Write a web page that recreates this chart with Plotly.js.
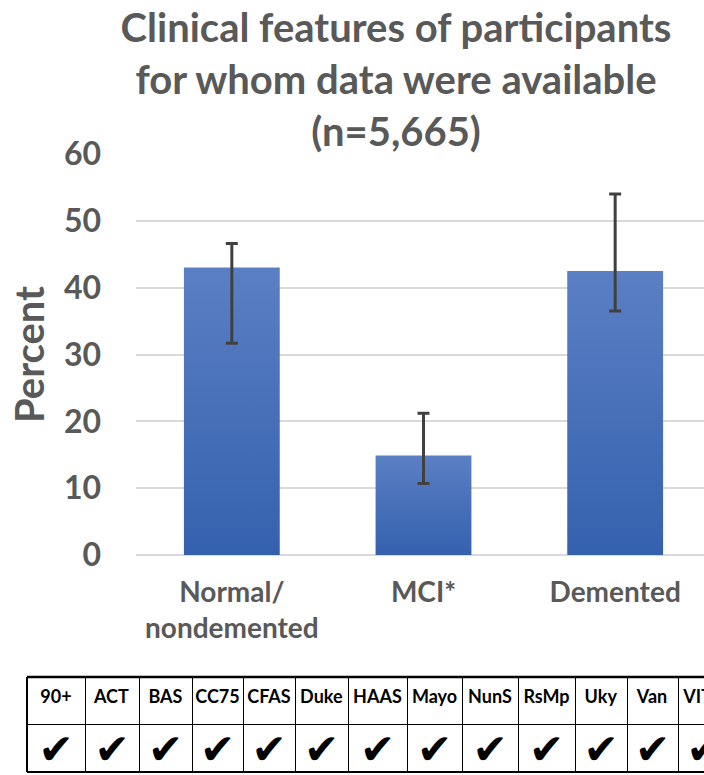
<!DOCTYPE html>
<html>
<head>
<meta charset="utf-8">
<script src="https://cdn.plot.ly/plotly-3.0.1.min.js"></script>
<style>
html, body { margin: 0; padding: 0; overflow: hidden; background: #fff; }
#chart { width: 730px; height: 775px; }
</style>
</head>
<body>
<div id="chart"></div>
<script>
// ---- data ----
const categories = ['Normal/<br>nondemented', 'MCI*', 'Demented'];
const percent = [43.0, 14.9, 42.5];
const upperLimit = [46.6, 21.2, 54.0];
const lowerLimit = [31.7, 10.7, 36.5];
const yTicks = [0, 10, 20, 30, 40, 50, 60];
const studies = ['90+', 'ACT', 'BAS', 'CC75', 'CFAS', 'Duke', 'HAAS', 'Mayo', 'NunS', 'RsMp', 'Uky', 'Van', 'VITA'];
const dataAvailable = [true, true, true, true, true, true, true, true, true, true, true, true, true];
const titleText = 'Clinical features of participants<br>for whom data were available<br>(n=5,665)';

// ---- layout constants ----
const W = 730, H = 775;
const colWidths = [58, 54, 53, 51, 52, 53, 59, 55, 56, 57, 52, 51, 52];
const grey = '#595959';

const barTrace = {
  type: 'bar',
  x: categories,
  y: percent,
  width: 0.5,
  marker: { color: '#4670b9', line: { width: 0 } },
  error_y: {
    type: 'data',
    symmetric: false,
    array: percent.map((v, i) => upperLimit[i] - v),
    arrayminus: percent.map((v, i) => v - lowerLimit[i]),
    color: '#404040',
    thickness: 3,
    width: 6
  },
  hoverinfo: 'x+y',
  showlegend: false
};

const tableTrace = {
  type: 'table',
  domain: { x: [27 / W, 1], y: [0, (H - 677) / H] },
  columnwidth: colWidths,
  header: {
    values: studies.map(s => '<b>' + s + '</b>'),
    height: 47,
    align: 'center',
    font: { family: 'Lato, sans-serif', size: 18, color: '#000' },
    line: { color: '#000', width: 1 },
    fill: { color: '#fff' }
  },
  cells: {
    values: dataAvailable.map(a => [a ? '✔' : '']),
    height: 48,
    align: 'center',
    font: { family: 'DejaVu Sans, sans-serif', size: 42, color: '#000' },
    line: { color: '#000', width: 1 },
    fill: { color: '#fff' }
  }
};

const layout = {
  width: W,
  height: H,
  margin: { l: 0, r: 0, t: 0, b: 0, pad: 0 },
  paper_bgcolor: '#fff',
  plot_bgcolor: '#fff',
  title: {
    text: titleText,
    font: { family: 'Lato, sans-serif', size: 40, color: grey, weight: 'bold' },
    x: 396 / W,
    xref: 'container',
    xanchor: 'center',
    y: 1 - 42 / H,
    yref: 'container',
    yanchor: 'middle'
  },
  xaxis: {
    type: 'category',
    domain: [136 / W, 711 / W],
    range: [-0.5, 2.5],
    showgrid: false,
    showline: false,
    zeroline: false,
    ticks: '',
    tickfont: { family: 'Lato, sans-serif', size: 28, color: grey, weight: 'bold' },
    ticklabelstandoff: 18,
    fixedrange: true
  },
  yaxis: {
    domain: [(H - 555) / H, (H - 154) / H],
    range: [0, 60],
    tickvals: yTicks,
    ticktext: yTicks.map(String),
    showgrid: true,
    gridcolor: '#d9d9d9',
    gridwidth: 2,
    zeroline: true,
    zerolinecolor: '#d9d9d9',
    zerolinewidth: 2,
    showline: false,
    ticks: '',
    tickfont: { family: 'Lato, sans-serif', size: 32, color: grey, weight: 'bold' },
    ticklabelstandoff: 34,
    title: {
      text: 'Percent',
      font: { family: 'Lato, sans-serif', size: 40, color: grey, weight: 'bold' },
      standoff: 6
    },
    fixedrange: true
  },
  shapes: [
    // thicker outer frame of the study table
    { type: 'line', xref: 'paper', yref: 'paper', x0: 27 / W, x1: 1, y0: (H - 677) / H, y1: (H - 677) / H, line: { color: '#000', width: 2.5 } },
    { type: 'line', xref: 'paper', yref: 'paper', x0: 27 / W, x1: 27 / W, y0: (H - 772) / H, y1: (H - 677) / H, line: { color: '#000', width: 2 } },
    { type: 'line', xref: 'paper', yref: 'paper', x0: 27 / W, x1: 1, y0: (H - 772) / H, y1: (H - 772) / H, line: { color: '#000', width: 2 } }
  ],
  bargap: 0.5
};

Plotly.newPlot('chart', [barTrace, tableTrace], layout, { staticPlot: true, displayModeBar: false }).then(gd => {
  // vertical gradient fill on the bars (like the original)
  const NS = 'http://www.w3.org/2000/svg';
  const svg = gd.querySelector('.main-svg');
  let defs = svg.querySelector('defs');
  if (!defs) { defs = document.createElementNS(NS, 'defs'); svg.insertBefore(defs, svg.firstChild); }
  const grad = document.createElementNS(NS, 'linearGradient');
  grad.setAttribute('id', 'barGrad');
  grad.setAttribute('x1', '0'); grad.setAttribute('y1', '0');
  grad.setAttribute('x2', '0'); grad.setAttribute('y2', '1');
  [['0%', '#5b7fc4'], ['100%', '#3461ae']].forEach(([o, c]) => {
    const s = document.createElementNS(NS, 'stop');
    s.setAttribute('offset', o); s.setAttribute('stop-color', c);
    grad.appendChild(s);
  });
  defs.appendChild(grad);
  gd.querySelectorAll('.bars .point path').forEach(p => { p.style.fill = 'url(#barGrad)'; });
});
</script>
</body>
</html>
